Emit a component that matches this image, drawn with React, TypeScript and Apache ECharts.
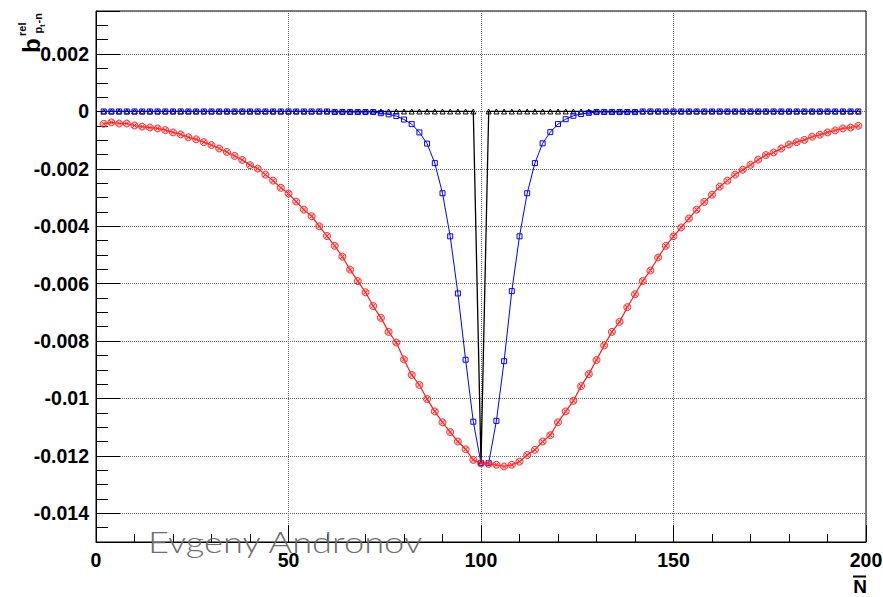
import React, { useEffect, useRef } from "react";
import * as echarts from "echarts";

const nVals = [
  2, 4, 6, 8, 10, 12, 14, 16, 18, 20, 22, 24, 26, 28, 30, 32, 34, 36, 38, 40,
  42, 44, 46, 48, 50, 52, 54, 56, 58, 60, 62, 64, 66, 68, 70, 72, 74, 76, 78, 80,
  82, 84, 86, 88, 90, 92, 94, 96, 98, 100, 102, 104, 106, 108, 110, 112, 114, 116, 118, 120,
  122, 124, 126, 128, 130, 132, 134, 136, 138, 140, 142, 144, 146, 148, 150, 152, 154, 156, 158, 160,
  162, 164, 166, 168, 170, 172, 174, 176, 178, 180, 182, 184, 186, 188, 190, 192, 194, 196, 198,
];

const redVals = [
  -0.00043, -0.00038, -0.00042, -0.00042, -0.00049, -0.00053, -0.00056, -0.00059, -0.00065, -0.00073,
  -0.0008, -0.0009, -0.00097, -0.00107, -0.00117, -0.00129, -0.00141, -0.00155, -0.00169, -0.00187,
  -0.00199, -0.0022, -0.00241, -0.00266, -0.00286, -0.00314, -0.00342, -0.00365, -0.004, -0.00434,
  -0.00468, -0.00506, -0.00551, -0.00591, -0.0063, -0.00678, -0.00719, -0.00768, -0.00805, -0.00864,
  -0.00918, -0.00953, -0.01002, -0.01045, -0.01083, -0.01117, -0.0115, -0.01177, -0.01214, -0.01226,
  -0.01228, -0.01231, -0.01237, -0.01231, -0.0122, -0.01197, -0.01179, -0.0115, -0.01128, -0.01083,
  -0.01045, -0.01008, -0.00957, -0.00915, -0.00866, -0.00815, -0.00768, -0.00733, -0.00682, -0.00637,
  -0.00591, -0.00554, -0.00509, -0.00468, -0.00435, -0.00404, -0.00373, -0.00342, -0.00315, -0.0029,
  -0.00262, -0.00241, -0.0022, -0.00203, -0.00186, -0.00168, -0.00152, -0.00143, -0.00129, -0.00115,
  -0.00107, -0.00099, -0.00088, -0.00081, -0.00073, -0.00066, -0.00059, -0.00056, -0.0005,
];

const blueVals = [
  0, 0, 0, 0, 0, 0, 0, 0, 0, 0,
  0, 0, 0, 0, 0, 0, 0, 0, 0, 0,
  0, 0, 0, 0, 0, 0, 0, 0, 0, 0,
  -0.00002, -0.00002, -0.00002, -0.00002, -0.00002, -0.00002, -0.00006, -0.0001, -0.00016, -0.00028,
  -0.00044, -0.00073, -0.00112, -0.0018, -0.00285, -0.00435, -0.00634, -0.00865, -0.01081, -0.01225,
  -0.01225, -0.01078, -0.0087, -0.00626, -0.00435, -0.00285, -0.0018, -0.00111, -0.00072, -0.00044,
  -0.00027, -0.00015, -0.00009, -0.00005, -0.00002, -0.00002, -0.00002, -0.00002, -0.00002, -0.00002,
  0, 0, 0, 0, 0, 0, 0, 0, 0, 0,
  0, 0, 0, 0, 0, 0, 0, 0, 0, 0,
  0, 0, 0, 0, 0, 0, 0, 0, 0,
];

const blackVals = [
  0, 0, 0, 0, 0, 0, 0, 0, 0, 0,
  0, 0, 0, 0, 0, 0, 0, 0, 0, 0,
  0, 0, 0, 0, 0, 0, 0, 0, 0, 0,
  0, 0, 0, 0, 0, 0, 0, 0, 0, 0,
  0, 0, 0, 0, 0, 0, 0, 0, 0, -0.01225,
  0, 0, 0, 0, 0, 0, 0, 0, 0, 0,
  0, 0, 0, 0, 0, 0, 0, 0, 0, 0,
  0, 0, 0, 0, 0, 0, 0, 0, 0, 0,
  0, 0, 0, 0, 0, 0, 0, 0, 0, 0,
  0, 0, 0, 0, 0, 0, 0, 0, 0,
];

const xTicks = [0, 50, 100, 150, 200];
const yMin = -0.015;
const yMax = 0.0035;

const LABEL_FONT = "'Liberation Sans', Arial, sans-serif";
const TITLE_FONT = "'Liberation Sans', Arial, sans-serif";

const CIRCLE_X =
  "path://M10,1A9,9,0,1,1,9.99,1ZM3.6,3.6L16.4,16.4M16.4,3.6L3.6,16.4";
const SQUARE = "path://M0,0H10V10H0Z";
const TRIANGLE = "path://M5,0L10,10H0Z";

function fmtY(v: number): string {
  const k = v / 0.002;
  if (Math.abs(k - Math.round(k)) > 1e-6) return "";
  const s = String(parseFloat(v.toFixed(3)));
  return s === "-0" ? "0" : s;
}

export default function App() {
  const ref = useRef<HTMLDivElement | null>(null);
  useEffect(() => {
    if (!ref.current) return;
    const chart = echarts.init(ref.current, null, { renderer: "svg" });
    const pairs = (vals: number[]) => nVals.map((x, i) => [x, vals[i]]);
    const option: any = {
      animation: false,
      backgroundColor: "#ffffff",
      grid: {
        left: 96,
        right: 17,
        top: 11,
        bottom: 55,
        containLabel: false,
        outerBoundsMode: "none",
        show: true,
        borderColor: "#000",
        borderWidth: 1,
        backgroundColor: "transparent",
      },
      xAxis: {
        type: "value",
        min: xTicks[0],
        max: xTicks[xTicks.length - 1],
        interval: 50,
        axisLine: { show: true, onZero: false, lineStyle: { color: "#000", width: 1 } },
        axisTick: { show: true, inside: true, length: 17, lineStyle: { color: "#000" } },
        minorTick: { show: true, splitNumber: 5, length: 8, lineStyle: { color: "#000" } },
        splitLine: { show: true, lineStyle: { color: "#666", type: "dotted", width: 1 } },
        axisLabel: {
          margin: 8,
          fontFamily: LABEL_FONT,
          fontWeight: "bold",
          fontSize: 19.5,
          color: "#000",
        },
      },
      yAxis: [
        {
          type: "value",
          min: yMin,
          max: yMax,
          splitNumber: 9,
          axisLine: { show: true, onZero: false, lineStyle: { color: "#000", width: 1 } },
          axisTick: { show: true, inside: true, length: 24, lineStyle: { color: "#000" } },
          splitLine: { show: true, lineStyle: { color: "#666", type: "dotted", width: 1 } },
          axisLabel: {
            margin: 7,
            formatter: fmtY,
            showMinLabel: true,
            showMaxLabel: true,
            fontFamily: LABEL_FONT,
            fontWeight: "bold",
            fontSize: 19.5,
            color: "#000",
          },
        },
        {
          type: "value",
          position: "left",
          offset: 0,
          min: yMin,
          max: yMax,
          splitNumber: 37,
          axisLine: { show: false },
          axisTick: { show: true, inside: true, length: 12, lineStyle: { color: "#000" } },
          splitLine: { show: false },
          axisLabel: { show: false },
        },
      ],
      series: [
        {
          name: "black",
          type: "line",
          data: pairs(blackVals),
          symbol: TRIANGLE,
          symbolSize: 5,
          showAllSymbol: true,
          lineStyle: { color: "#000", width: 1.3 },
          itemStyle: { color: "rgba(0,0,0,0)", borderColor: "#000", borderWidth: 1 },
          z: 3,
        },
        {
          name: "blue",
          type: "line",
          data: pairs(blueVals),
          symbol: SQUARE,
          symbolSize: 5,
          showAllSymbol: true,
          lineStyle: { color: "#0000ff", width: 1 },
          itemStyle: { color: "rgba(0,0,0,0)", borderColor: "#0000ff", borderWidth: 1 },
          z: 4,
        },
        {
          name: "red",
          type: "line",
          data: pairs(redVals),
          symbol: CIRCLE_X,
          symbolSize: 7,
          showAllSymbol: true,
          lineStyle: { color: "#ff1a1a", width: 1.2 },
          itemStyle: { color: "rgba(255,80,80,0.25)", borderColor: "#ff2a2a", borderWidth: 1 },
          z: 5,
        },
      ],
      graphic: [
        {
          type: "group",
          x: 40,
          y: 53,
          rotation: Math.PI / 2,
          children: [
            {
              type: "text",
              x: 0,
              y: -8.3,
              style: { text: "b", font: `bold 24px ${TITLE_FONT}`, fill: "#000", verticalAlign: "middle", align: "left" },
            },
            {
              type: "text",
              x: 17,
              y: -18.5,
              style: { text: "rel", font: `bold 11px ${TITLE_FONT}`, fill: "#000", verticalAlign: "middle", align: "left" },
            },
            {
              type: "text",
              x: 19.5,
              y: -2,
              style: { text: "p", font: `bold 11px ${TITLE_FONT}`, fill: "#000", verticalAlign: "middle", align: "left" },
            },
            {
              type: "text",
              x: 26,
              y: 2.5,
              style: { text: "t", font: `bold 8px ${TITLE_FONT}`, fill: "#000", verticalAlign: "middle", align: "left" },
            },
            {
              type: "text",
              x: 29.5,
              y: -2,
              style: { text: "-n", font: `bold 11px ${TITLE_FONT}`, fill: "#000", verticalAlign: "middle", align: "left" },
            },
          ],
        },
        {
          type: "text",
          x: 867,
          y: 586,
          style: { text: "N", font: `bold 19px ${TITLE_FONT}`, fill: "#000", verticalAlign: "middle", align: "right" },
        },
        {
          type: "line",
          shape: { x1: 853, y1: 576.5, x2: 866, y2: 576.5 },
          style: { stroke: "#000", lineWidth: 2 },
        },
        {
          type: "text",
          x: 148,
          y: 541,
          scaleX: 1.21,
          z: 100,
          style: {
            text: "Evgeny Andronov",
            font: `300 30px Lato, 'Open Sans', sans-serif`,
            fill: "#6e6e6e",
            verticalAlign: "middle",
            align: "left",
          },
        },
      ],
    };
    chart.setOption(option);
    return () => chart.dispose();
  }, []);
  return (
    <div
      ref={ref}
      style={{ position: "fixed", left: 0, top: 0, width: 883, height: 597 }}
    />
  );
}
